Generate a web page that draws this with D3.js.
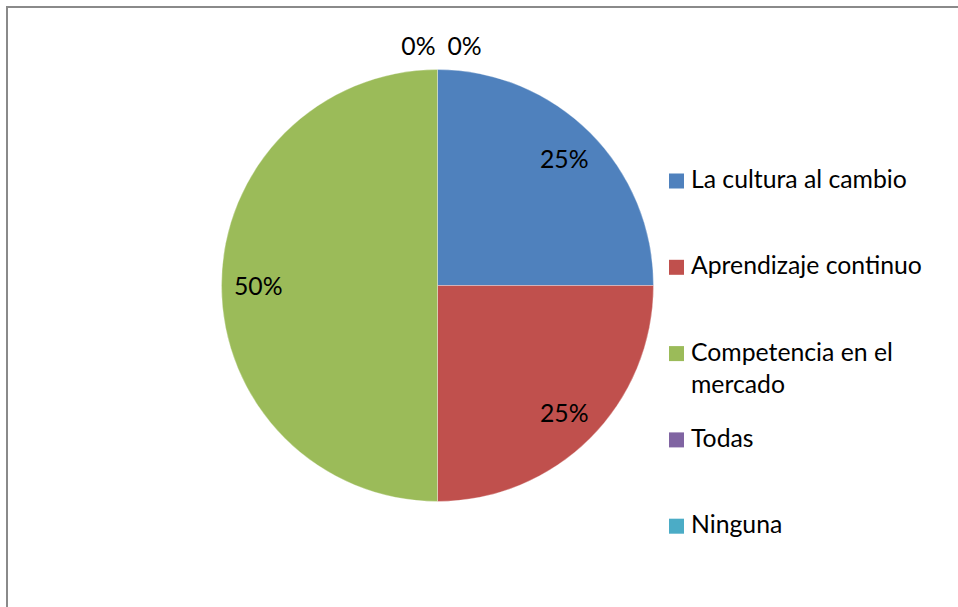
<!DOCTYPE html>
<html>
<head>
<meta charset="utf-8">
<script src="https://cdn.jsdelivr.net/npm/d3@7"></script>
<style>
  html, body { margin: 0; padding: 0; background: #fff; }
  svg { display: block; }
  text { font-family: Lato, "Open Sans", "Liberation Sans", sans-serif; fill: #000; }
</style>
</head>
<body>
<svg id="chart" width="958" height="607"></svg>
<script>
// Survey answers and their shares
const categories = ["La cultura al cambio", "Aprendizaje continuo", "Competencia en el mercado", "Todas", "Ninguna"];
const values = [25, 25, 50, 0, 0];
const colors = ["#4F81BD", "#C0504D", "#9BBB59", "#8064A2", "#4BACC6"];

const W = 958, H = 607;
const svg = d3.select("#chart");

// Chart frame (runs off the right and bottom edges)
svg.append("rect")
  .attr("x", 7).attr("y", 7)
  .attr("width", W + 20).attr("height", H + 20)
  .attr("fill", "#fff")
  .attr("stroke", "#8a8a8a")
  .attr("stroke-width", 2);

// Pick a font size so the legend text has the usual width
const probe = svg.append("text").attr("font-size", 20).text(categories[0]);
const probeW = probe.node().getComputedTextLength();
probe.remove();
const fontSize = Math.min(26, 20 * 216 / probeW);

const cx = 437.5, cy = 285.5, R = 216;
const data = categories.map((c, i) => ({ name: c, value: values[i], color: colors[i] }));

const pie = d3.pie().value(d => d.value).sort(null);
const arcs = pie(data);
const arc = d3.arc().innerRadius(0).outerRadius(R);

const g = svg.append("g").attr("transform", `translate(${cx},${cy})`);

g.selectAll("path.slice")
  .data(arcs.filter(a => a.data.value > 0))
  .join("path")
  .attr("class", "slice")
  .attr("d", arc)
  .attr("fill", d => d.data.color)
  .attr("stroke", "rgba(255,255,255,0.5)")
  .attr("stroke-width", 0.6);

// Value labels: inside for non-empty slices, outside above for empty ones
const fmt = v => d3.format(".0%")(v / d3.sum(values));
const insideArc = d3.arc().innerRadius(R * 0.83).outerRadius(R * 0.83);
const outsideArc = d3.arc().innerRadius(R + 24).outerRadius(R + 24);

const inside = arcs.filter(a => a.data.value > 0);
g.selectAll("text.inlabel")
  .data(inside)
  .join("text")
  .attr("class", "inlabel")
  .attr("font-size", fontSize)
  .attr("text-anchor", "middle")
  .attr("dominant-baseline", "central")
  .attr("transform", d => {
    const [x, y] = insideArc.centroid(d);
    return `translate(${x},${y})`;
  })
  .text(d => fmt(d.data.value));

// Empty slices share the same spot, so spread their labels side by side
const outside = arcs.filter(a => a.data.value === 0);
const outLabels = g.selectAll("text.outlabel")
  .data(outside)
  .join("text")
  .attr("class", "outlabel")
  .attr("font-size", fontSize)
  .attr("text-anchor", "middle")
  .attr("dominant-baseline", "central")
  .text(d => fmt(d.data.value));
const widths = outLabels.nodes().map(n => n.getComputedTextLength());
const gap = 12;
const total = d3.sum(widths) + gap * (widths.length - 1);
let run = -total / 2 + 4;
outLabels.attr("transform", (d, i) => {
  const [x, y] = outsideArc.centroid(d);
  const px = x + run + widths[i] / 2;
  run += widths[i] + gap;
  return `translate(${px},${y})`;
});

// Legend
const legX = 669, legTop = 181, legStep = 86.3, sw = 15, maxTextW = 235;
const legend = svg.append("g");
const items = legend.selectAll("g.item")
  .data(data)
  .join("g")
  .attr("class", "item")
  .attr("transform", (d, i) => `translate(${legX},${legTop + i * legStep})`);

items.append("rect")
  .attr("x", 0).attr("y", -sw / 2)
  .attr("width", sw).attr("height", sw)
  .attr("fill", d => d.color);

items.each(function (d) {
  const t = d3.select(this).append("text")
    .attr("x", 22).attr("y", sw / 2 - 0.5)
    .attr("font-size", fontSize);
  const words = d.name.split(" ");
  let line = [];
  let tspan = t.append("tspan").attr("x", 22);
  let lineNo = 0;
  words.forEach(w => {
    line.push(w);
    tspan.text(line.join(" "));
    if (tspan.node().getComputedTextLength() > maxTextW && line.length > 1) {
      line.pop();
      tspan.text(line.join(" "));
      line = [w];
      lineNo++;
      tspan = t.append("tspan").attr("x", 22).attr("dy", 32).text(w);
    }
  });
});
</script>
</body>
</html>
